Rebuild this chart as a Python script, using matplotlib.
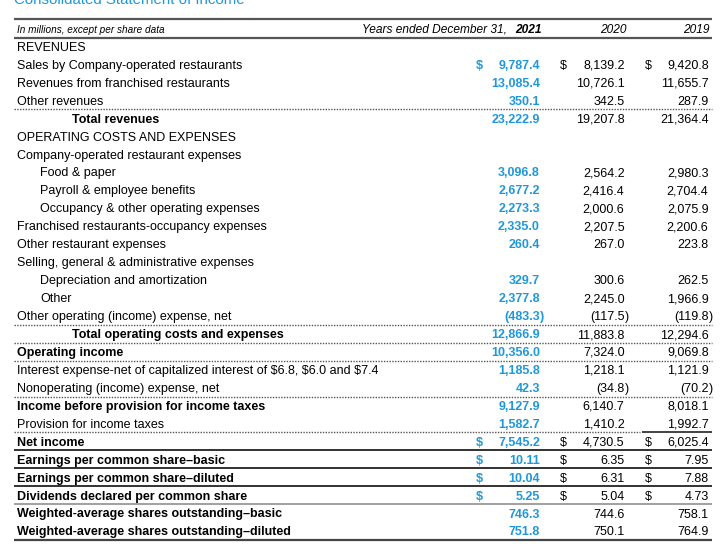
import matplotlib
matplotlib.use("Agg")
import matplotlib.pyplot as plt

plt.rcParams['font.family'] = ['Liberation Sans', 'DejaVu Sans']
plt.rcParams['text.parse_math'] = False

title = "Consolidated Statement of Income"
header_note = "In millions, except per share data"
years = ["2021", "2020", "2019"]

labels = [
    "REVENUES",
    "Sales by Company-operated restaurants",
    "Revenues from franchised restaurants",
    "Other revenues",
    "Total revenues",
    "OPERATING COSTS AND EXPENSES",
    "Company-operated restaurant expenses",
    "Food & paper",
    "Payroll & employee benefits",
    "Occupancy & other operating expenses",
    "Franchised restaurants-occupancy expenses",
    "Other restaurant expenses",
    "Selling, general & administrative expenses",
    "Depreciation and amortization",
    "Other",
    "Other operating (income) expense, net",
    "Total operating costs and expenses",
    "Operating income",
    "Interest expense-net of capitalized interest of $6.8, $6.0 and $7.4",
    "Nonoperating (income) expense, net",
    "Income before provision for income taxes",
    "Provision for income taxes",
    "Net income",
    "Earnings per common share\u2013basic",
    "Earnings per common share\u2013diluted",
    "Dividends declared per common share",
    "Weighted-average shares outstanding\u2013basic",
    "Weighted-average shares outstanding\u2013diluted",
]
# indent: 0 = flush, 1 = sub item, 2 = total line
indent = [0, 0, 0, 0, 2, 0, 0, 1, 1, 1, 0, 0, 0, 1, 1, 0, 2, 0, 0, 0, 0, 0, 0, 0, 0, 0, 0, 0]
bold = [False, False, False, False, True, False, False, False, False, False, False, False, False,
        False, False, False, True, True, False, False, True, False, True, True, True, True, True, True]

v2021 = [None, 9787.4, 13085.4, 350.1, 23222.9, None, None, 3096.8, 2677.2, 2273.3, 2335.0, 260.4,
         None, 329.7, 2377.8, -483.3, 12866.9, 10356.0, 1185.8, 42.3, 9127.9, 1582.7, 7545.2,
         10.11, 10.04, 5.25, 746.3, 751.8]
v2020 = [None, 8139.2, 10726.1, 342.5, 19207.8, None, None, 2564.2, 2416.4, 2000.6, 2207.5, 267.0,
         None, 300.6, 2245.0, -117.5, 11883.8, 7324.0, 1218.1, -34.8, 6140.7, 1410.2, 4730.5,
         6.35, 6.31, 5.04, 744.6, 750.1]
v2019 = [None, 9420.8, 11655.7, 287.9, 21364.4, None, None, 2980.3, 2704.4, 2075.9, 2200.6, 223.8,
         None, 262.5, 1966.9, -119.8, 12294.6, 9069.8, 1121.9, -70.2, 8018.1, 1992.7, 6025.4,
         7.95, 7.88, 4.73, 758.1, 764.9]
decimals = [1] * 23 + [2, 2, 2] + [1, 1]
dollar_rows = [1, 22, 23, 24, 25]
dotted_after = [3, 15, 16, 17, 19, 21]
solid_after = [22, 23, 24, 25]

BLUE = '#1f98db'
FS = 9.0

fig = plt.figure(figsize=(7.2, 5.48), dpi=100)
ax = fig.add_axes([0, 0, 1, 1])
ax.set_xlim(0, 720)
ax.set_ylim(548, 0)
ax.axis('off')

X0, X1 = 14, 712
indent_x = {0: 17, 1: 40, 2: 72}
num_right = [540, 624.5, 708.5]
dollar_x = [476, 560, 645]


def row_y(i):
    return 46.5 + 17.95 * i


def fmt(v, d):
    return f"{abs(v):,.{d}f}"


# Title (partially cut off at top, as in the source)
ax.text(14, 3.5, title, fontsize=10.8, color=BLUE, ha='left', va='baseline')

# header lines
ax.plot([X0, X1], [19, 19], color='#555555', lw=1.6, solid_capstyle='butt')
ax.plot([X0, X1], [37.5, 37.5], color='#555555', lw=1.6, solid_capstyle='butt')
ax.text(17, 33, header_note, fontsize=7.2, style='italic', ha='left', va='baseline')
ax.text(num_right[0] - 30, 33, "Years ended December 31, ", fontsize=8.6, style='italic',
        ha='right', va='baseline')
ax.text(num_right[0] + 2, 33, years[0], fontsize=8.6, style='italic', fontweight='bold',
        ha='right', va='baseline')
ax.text(627, 33, years[1], fontsize=8.6, style='italic', ha='right', va='baseline')
ax.text(710, 33, years[2], fontsize=8.6, style='italic', ha='right', va='baseline')

cols = [v2021, v2020, v2019]
for i, lab in enumerate(labels):
    y = row_y(i) + 4.3
    ax.text(indent_x[indent[i]], y, lab, fontsize=FS, fontweight='bold' if bold[i] else 'normal',
            ha='left', va='baseline')
    for c, vals in enumerate(cols):
        v = vals[i]
        if v is None:
            continue
        color = BLUE if c == 0 else 'black'
        weight = 'bold' if c == 0 else 'normal'
        s = fmt(v, decimals[i])
        if v < 0:
            s = "(" + s
            ax.text(num_right[c], y, ")", fontsize=FS, color=color, fontweight=weight,
                    ha='left', va='baseline')
        ax.text(num_right[c], y, s, fontsize=FS, color=color, fontweight=weight,
                ha='right', va='baseline')
        if i in dollar_rows:
            ax.text(dollar_x[c], y, "$", fontsize=FS, color=color, fontweight=weight,
                    ha='left', va='baseline')

for i in dotted_after:
    y = row_y(i) + 9
    if i == 21:
        ax.plot([X0, 640], [y, y], color='#555555', lw=1.0, linestyle=(0, (1, 1)))
        ax.plot([642, X1], [y - 0.5, y - 0.5], color='#222222', lw=1.2, solid_capstyle='butt')
    else:
        ax.plot([X0, X1], [y, y], color='#555555', lw=1.0, linestyle=(0, (1, 1)))

for i in solid_after:
    y = row_y(i) + 9
    col = '#999999' if i == 25 else '#222222'
    ax.plot([X0, X1], [y, y], color=col, lw=1.3, solid_capstyle='butt')

yb = row_y(len(labels) - 1) + 9
ax.plot([X0, X1], [yb, yb], color='#444444', lw=1.6, solid_capstyle='butt')

fig.savefig("out.png", dpi=100)
